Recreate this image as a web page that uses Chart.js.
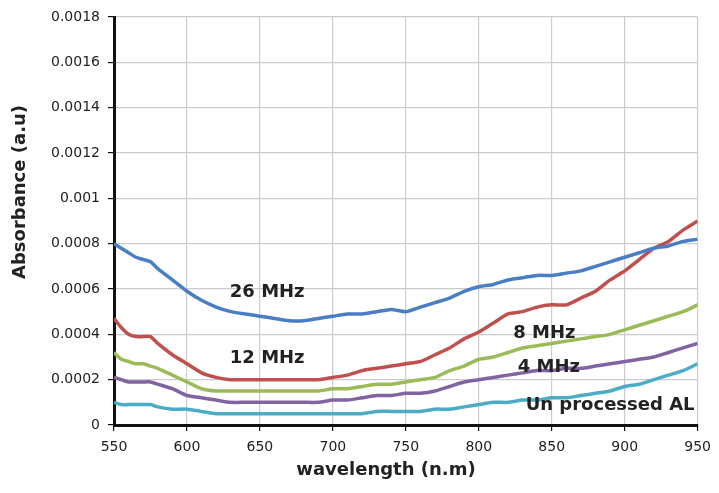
<!DOCTYPE html>
<html>
<head>
<meta charset="utf-8">
<script src="https://cdn.jsdelivr.net/npm/chart.js@4.4.0/dist/chart.umd.min.js"></script>
<style>
  html, body { margin: 0; padding: 0; background: #fff; }
  #wrap { width: 719px; height: 493px; }
</style>
</head>
<body>
<div id="wrap"><canvas id="absChart" width="719" height="493"></canvas></div>
<script>
// ========== DATA ========== //
const wavelengths = [550, 555, 560, 565, 570, 575, 580, 590, 600, 610, 620, 630, 640, 650, 660, 670, 680, 690,
    700, 710, 720, 730, 740, 750, 760, 770, 780, 790, 800, 810, 820, 830, 840, 850, 860, 870, 880, 890,
    900, 910, 920, 930, 940, 950];

const mhz26 = [0.00080, 0.00078, 0.00076, 0.00074, 0.00073, 0.00072, 0.00069, 0.00064, 0.00059, 0.00055, 0.00052, 0.00050,
    0.00049, 0.00048, 0.00047, 0.00046, 0.00046, 0.00047, 0.00048, 0.00049, 0.00049, 0.00050, 0.00051, 0.00050,
    0.00052, 0.00054, 0.00056, 0.00059, 0.00061, 0.00062, 0.00064, 0.00065, 0.00066, 0.00066, 0.00067, 0.00068,
    0.00070, 0.00072, 0.00074, 0.00076, 0.00078, 0.00079, 0.00081, 0.00082];

const mhz12 = [0.00047, 0.00043, 0.00040, 0.00039, 0.00039, 0.00039, 0.00036, 0.00031, 0.00027, 0.00023, 0.00021, 0.00020,
    0.00020, 0.00020, 0.00020, 0.00020, 0.00020, 0.00020, 0.00021, 0.00022, 0.00024, 0.00025, 0.00026, 0.00027,
    0.00028, 0.00031, 0.00034, 0.00038, 0.00041, 0.00045, 0.00049, 0.00050, 0.00052, 0.00053, 0.00053, 0.00056,
    0.00059, 0.00064, 0.00068, 0.00073, 0.00078, 0.00081, 0.00086, 0.00090];

const mhz8 = [0.00032, 0.00029, 0.00028, 0.00027, 0.00027, 0.00026, 0.00025, 0.00022, 0.00019, 0.00016, 0.00015, 0.00015,
    0.00015, 0.00015, 0.00015, 0.00015, 0.00015, 0.00015, 0.00016, 0.00016, 0.00017, 0.00018, 0.00018, 0.00019,
    0.00020, 0.00021, 0.00024, 0.00026, 0.00029, 0.00030, 0.00032, 0.00034, 0.00035, 0.00036, 0.00037, 0.00038,
    0.00039, 0.00040, 0.00042, 0.00044, 0.00046, 0.00048, 0.00050, 0.00053];

const mhz4 = [0.00021, 0.00020, 0.00019, 0.00019, 0.00019, 0.00019, 0.00018, 0.00016, 0.00013, 0.00012, 0.00011, 0.00010,
    0.00010, 0.00010, 0.00010, 0.00010, 0.00010, 0.00010, 0.00011, 0.00011, 0.00012, 0.00013, 0.00013, 0.00014,
    0.00014, 0.00015, 0.00017, 0.00019, 0.00020, 0.00021, 0.00022, 0.00023, 0.00024, 0.00024, 0.00025, 0.00025,
    0.00026, 0.00027, 0.00028, 0.00029, 0.00030, 0.00032, 0.00034, 0.00036];

const unprocessed = [0.00010, 0.00009, 0.00009, 0.00009, 0.00009, 0.00009, 0.00008, 0.00007, 0.00007, 0.00006, 0.00005, 0.00005,
    0.00005, 0.00005, 0.00005, 0.00005, 0.00005, 0.00005, 0.00005, 0.00005, 0.00005, 0.00006, 0.00006, 0.00006,
    0.00006, 0.00007, 0.00007, 0.00008, 0.00009, 0.00010, 0.00010, 0.00011, 0.00011, 0.00012, 0.00012, 0.00013,
    0.00014, 0.00015, 0.00017, 0.00018, 0.00020, 0.00022, 0.00024, 0.00027];

const xTicks = [550, 600, 650, 700, 750, 800, 850, 900, 950];
const yTicks = ["0", "0.0002", "0.0004", "0.0006", "0.0008", "0.001", "0.0012", "0.0014", "0.0016", "0.0018"];

// text labels placed inside the plot (data coordinates)
const seriesLabels = [
    { text: "26 MHz", x: 655, y: 0.000587 },
    { text: "12 MHz", x: 655, y: 0.000296 },
    { text: "8 MHz", x: 845, y: 0.000406 },
    { text: "4 MHz", x: 848, y: 0.000256 },
    { text: "Un processed AL", x: 890, y: 0.000088 }
];

const pairs = arr => arr.map((v, i) => ({ x: wavelengths[i], y: v }));

// ========== PLUGIN: inline labels + axis titles ========== //
const labelPlugin = {
    id: 'labelPlugin',
    afterDraw(chart) {
        const c = chart.ctx;
        const xs = chart.scales.x, ys = chart.scales.y;
        c.save();
        c.fillStyle = "#222";
        c.textAlign = "center";
        c.textBaseline = "middle";
        c.font = "bold 18px 'DejaVu Sans'";
        seriesLabels.forEach(l => {
            c.fillText(l.text, xs.getPixelForValue(l.x), ys.getPixelForValue(l.y));
        });

        // x title
        c.font = "bold 18px 'DejaVu Sans'";
        c.fillText("wavelength (n.m)", 386, 470);

        // y title
        c.translate(20, 192);
        c.rotate(-Math.PI / 2);
        c.fillText("Absorbance (a.u)", 0, 0);
        c.restore();
    }
};

// ========== CHART ========== //
const ctx = document.getElementById('absChart');
new Chart(ctx, {
    type: 'line',
    data: {
        datasets: [
            { label: "26 MHz", data: pairs(mhz26), borderColor: "#4a7ec4" },
            { label: "12 MHz", data: pairs(mhz12), borderColor: "#c0504d" },
            { label: "8 MHz", data: pairs(mhz8), borderColor: "#9bbb59" },
            { label: "4 MHz", data: pairs(mhz4), borderColor: "#8064a2" },
            { label: "Un processed AL", data: pairs(unprocessed), borderColor: "#4bacc6" }
        ].map(d => Object.assign(d, { borderWidth: 3.5, pointRadius: 0, tension: 0.2, fill: false }))
    },
    options: {
        responsive: false,
        animation: false,
        layout: { padding: { left: 0, right: 17, top: 17, bottom: 0 } },
        plugins: { legend: { display: false }, tooltip: { enabled: false } },
        scales: {
            x: {
                type: 'linear',
                min: 550,
                max: 950,
                afterBuildTicks: s => { s.ticks = xTicks.map(v => ({ value: v })); },
                afterFit: s => { s.height = 68; },
                ticks: { color: "#222", font: { family: "DejaVu Sans", size: 14 }, padding: 8, maxRotation: 0 },
                grid: { color: "#cccccc", lineWidth: 1.2, tickColor: "#111", tickLength: 6 },
                border: { color: "#111", width: 3 }
            },
            y: {
                min: 0,
                max: 0.0018,
                afterBuildTicks: s => { s.ticks = yTicks.map(t => ({ value: parseFloat(t) })); },
                afterFit: s => { s.width = 114; },
                ticks: {
                    color: "#222",
                    font: { family: "DejaVu Sans", size: 14 },
                    padding: 8,
                    callback: (v, i) => yTicks[i]
                },
                grid: { color: "#cccccc", lineWidth: 1.2, tickColor: "#111", tickLength: 6 },
                border: { color: "#111", width: 3 }
            }
        }
    },
    plugins: [labelPlugin]
});
</script>
</body>
</html>
